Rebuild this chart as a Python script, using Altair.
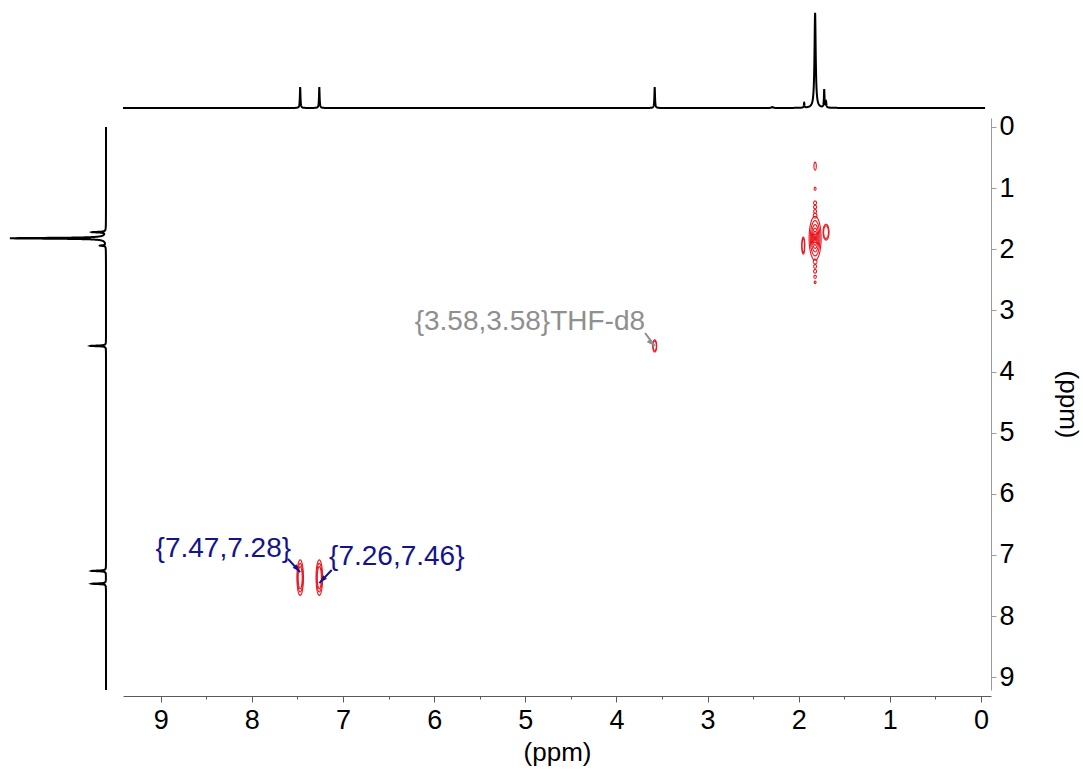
import altair as alt
import numpy as np
import pandas as pd

# ---- axis ranges (ppm) --------------------------------------------------
F2_RANGE = [9.414, -0.11]      # horizontal (left -> right)
F1_RANGE = [9.208, -0.147]     # vertical   (bottom -> top)
TICKS = [0, 0.5, 1, 1.5, 2, 2.5, 3, 3.5, 4, 4.5, 5, 5.5, 6, 6.5, 7, 7.5, 8, 8.5, 9]

# ---- 1D projection along F2 (top trace) ---------------------------------
TOP_PPM = [7.47, 7.26, 3.58, 2.29, 1.94, 1.82, 1.72, 1.70]
TOP_HEIGHT = [22, 22, 22, 1, 5, 100, 19, 6]
TOP_WIDTH = [0.004, 0.004, 0.004, 0.01, 0.004, 0.008, 0.004, 0.004]
TOP_EXTENT = [-0.045, 9.414]

# ---- 1D projection along F1 (left trace) --------------------------------
LEFT_PPM = [7.47, 7.26, 3.58, 1.94, 1.82, 1.72]
LEFT_HEIGHT = [15, 15, 16, 6, 100, 14]
LEFT_WIDTH = [0.006, 0.006, 0.006, 0.006, 0.008, 0.006]
LEFT_EXTENT = [0.0, 9.208]

# ---- 2D cross peaks: centre (F2, F1), half widths (ppm), number of levels
PEAK_F2 = [1.82, 1.70, 1.95, 3.58, 7.47, 7.26]
PEAK_F1 = [1.82, 1.72, 1.94, 3.58, 7.37, 7.37]
PEAK_W2 = [0.066, 0.033, 0.017, 0.022, 0.036, 0.036]
PEAK_W1 = [0.36, 0.13, 0.14, 0.10, 0.29, 0.29]
PEAK_LEVELS = [7, 2, 2, 2, 3, 3]

# t1-noise streak along the strong 1.82 ppm column
STREAK_F1 = [0.64, 1.01, 1.24, 1.31, 1.38, 1.45, 2.20, 2.28, 2.36, 2.45, 2.54]
STREAK_W1 = [0.065, 0.025, 0.03, 0.03, 0.03, 0.04, 0.04, 0.03, 0.03, 0.025, 0.02]
STREAK_W2 = [0.013, 0.01, 0.016, 0.016, 0.016, 0.02, 0.02, 0.016, 0.016, 0.013, 0.01]
STREAK_F2 = 1.82

LEVEL_FRACTIONS = [1.0, 0.8, 0.62, 0.46, 0.32, 0.2, 0.1]

# ---- peak annotations ---------------------------------------------------
ANNO_TEXT = ["{7.47,7.28}", "{7.26,7.46}", "{3.58,3.58}THF-d8"]
ANNO_F2 = [7.47, 7.26, 3.58]          # labelled peak (arrow tip)
ANNO_F1 = [7.28, 7.46, 3.58]
ANNO_TEXT_F2 = [7.570, 7.153, 3.686]  # text anchor
ANNO_TEXT_F1 = [6.902, 7.033, 3.190]
ANNO_TAIL_F2 = [7.603, 7.124, 3.686]  # arrow start
ANNO_TAIL_F1 = [7.066, 7.246, 3.369]
ANNO_ALIGN = ["right", "left", "right"]
ANNO_COLOR = ["#14148a", "#14148a", "#8f8f8f"]
ANNO_ANGLE = [137, 224, 132]

FONT = "Liberation Sans"
RED = "#e8161e"


def spectrum(ppm, height, width, extent):
    """Sum of Lorentzian lines sampled on a grid that is dense near each line."""
    lo, hi = extent
    parts = [np.arange(lo, hi, 0.01), [lo, hi]]
    for c in ppm:
        parts.append(np.arange(c - 0.15, c + 0.15, 0.0005))
    grid = np.unique(np.concatenate(parts))
    grid = grid[(grid >= lo) & (grid <= hi)]
    inten = np.zeros_like(grid)
    for c, h, g in zip(ppm, height, width):
        inten += h * g * g / (g * g + (grid - c) ** 2)
    return pd.DataFrame({"ppm": grid, "inten": inten})


def contour_rings():
    rows = []
    t = np.linspace(0, 2 * np.pi, 49)
    ring = 0
    shapes = list(zip(PEAK_F2, PEAK_F1, PEAK_W2, PEAK_W1, PEAK_LEVELS))
    shapes += [(STREAK_F2, f1, w2, w1, 1) for f1, w2, w1 in zip(STREAK_F1, STREAK_W2, STREAK_W1)]
    for f2, f1, w2, w1, n in shapes:
        for frac in LEVEL_FRACTIONS[:n]:
            for i, a in enumerate(t):
                rows.append({"f2": f2 + frac * w2 * np.cos(a),
                             "f1": f1 + frac * w1 * np.sin(a),
                             "ring": ring, "i": i})
            ring += 1
    return pd.DataFrame(rows)


top_df = spectrum(TOP_PPM, TOP_HEIGHT, TOP_WIDTH, TOP_EXTENT)
left_df = spectrum(LEFT_PPM, LEFT_HEIGHT, LEFT_WIDTH, LEFT_EXTENT)
ring_df = contour_rings()
anno_df = pd.DataFrame({
    "text": ANNO_TEXT, "f2": ANNO_F2, "f1": ANNO_F1,
    "tf2": ANNO_TEXT_F2, "tf1": ANNO_TEXT_F1,
    "af2": ANNO_TAIL_F2, "af1": ANNO_TAIL_F1,
    "align": ANNO_ALIGN, "color": ANNO_COLOR, "angle": ANNO_ANGLE,
})

xs = alt.Scale(domain=F2_RANGE, nice=False, zero=False)
ys = alt.Scale(domain=F1_RANGE, nice=False, zero=False)
major = "datum.value % 1 === 0"

x_axis = alt.Axis(
    values=TICKS, format=".0f", labelExpr=f"{major} ? datum.label : ''",
    tickSize={"condition": {"test": major, "value": 6}, "value": 3},
    offset=6, grid=False, labelFlush=False, labelOverlap=False,
    domainColor="#5a5a5a", tickColor="#5a5a5a", labelPadding=5,
    labelFont=FONT, labelFontSize=27, labelColor="black",
    title="(ppm)", titleFont=FONT, titleFontSize=26, titleFontWeight="normal",
    titleColor="black", titlePadding=6,
)
y_axis = alt.Axis(
    orient="right", values=TICKS, format=".0f", labelExpr=f"{major} ? datum.label : ''",
    tickSize={"condition": {"test": major, "value": 5}, "value": 3},
    grid=False, labelFlush=False, labelOverlap=False,
    domainColor="#9a9a9a", tickColor="#9a9a9a", labelPadding=3,
    labelFont=FONT, labelFontSize=27, labelColor="black", labelBaseline="middle",
    title="(ppm)", titleFont=FONT, titleFontSize=26, titleFontWeight="normal",
    titleColor="black", titlePadding=40,
)

# The axes are drawn by a layer of their own; the data layers share its scales.
axes = alt.Chart(pd.DataFrame({"f2": F2_RANGE, "f1": F1_RANGE})).mark_point(opacity=0).encode(
    x=alt.X("f2:Q", scale=xs, axis=x_axis),
    y=alt.Y("f1:Q", scale=ys, axis=y_axis),
)

contours = alt.Chart(ring_df).mark_line(color=RED, strokeWidth=1.1).encode(
    x=alt.X("f2:Q"), y=alt.Y("f1:Q"),
    detail="ring:N",
    order="i:Q",
)

arrows = alt.Chart(anno_df).mark_rule(strokeWidth=2).encode(
    x=alt.X("af2:Q"), y=alt.Y("af1:Q"),
    x2="f2:Q", y2="f1:Q",
    color=alt.Color("color:N", scale=None),
)

heads = alt.Chart(anno_df).mark_point(
    shape="M0,0 L-0.6,2 L0.6,2 Z", filled=True, opacity=1, size=70, strokeWidth=0
).encode(
    x=alt.X("f2:Q"), y=alt.Y("f1:Q"),
    angle=alt.Angle("angle:Q", scale=None),
    color=alt.Color("color:N", scale=None),
)

label_layers = []
for align in ["left", "right"]:
    label_layers.append(
        alt.Chart(anno_df[anno_df["align"] == align]).mark_text(
            font=FONT, fontSize=28, align=align, baseline="middle"
        ).encode(
            x=alt.X("tf2:Q"), y=alt.Y("tf1:Q"),
            text="text:N", color=alt.Color("color:N", scale=None),
        )
    )

main = alt.layer(axes, contours, arrows, heads, *label_layers)

top_trace = alt.Chart(top_df).mark_line(color="black", strokeWidth=2).encode(
    x=alt.X("ppm:Q", scale=xs, axis=None),
    y=alt.Y("inten:Q", scale=alt.Scale(domain=[0, 100], range=[-10, -105]), axis=None),
    order="ppm:Q",
)

left_trace = alt.Chart(left_df).mark_line(color="black", strokeWidth=2).encode(
    y=alt.Y("ppm:Q", scale=ys, axis=None),
    x=alt.X("inten:Q", scale=alt.Scale(domain=[0, 100], range=[-17, -113]), axis=None),
    order="ppm:Q",
)

chart = alt.layer(main, top_trace, left_trace).resolve_scale(
    x="independent", y="independent"
).properties(
    width=868, height=572,
    background="white",
    autosize=alt.AutoSizeParams(type="none"),
    padding={"left": 123, "top": 118, "right": 92, "bottom": 83},
).configure_view(stroke=None)

chart.save("out.html", embed_options={"renderer": "svg", "actions": False})
